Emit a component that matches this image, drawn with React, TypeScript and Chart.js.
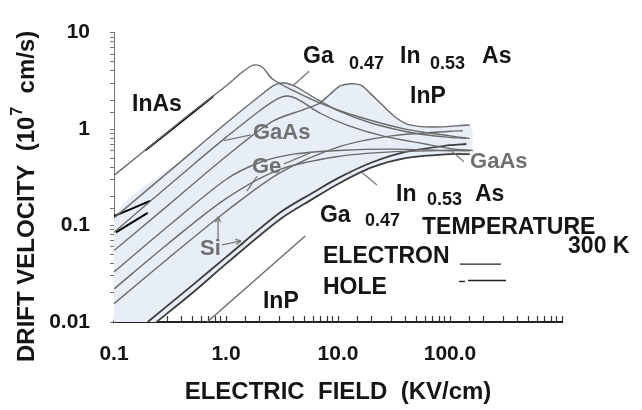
import React, { useEffect, useRef } from 'react';
import { Chart, registerables } from 'chart.js';

Chart.register(...registerables);

// ---------- axis ranges & tick labels ----------
const FIELD_MIN = 0.1;
const FIELD_MAX = 1000;
const VEL_MIN = 0.01;
const VEL_MAX = 10;
const X_TICK_LABELS = ['0.1', '1.0', '10.0', '100.0']; // decades 0.1 .. 100
const Y_TICK_LABELS = ['0.01', '0.1', '1', '10']; // decades 0.01 .. 10

// ---------- electron curves (field kV/cm, velocity 1e7 cm/s) ----------
const INAS_E_FIELD = [0.1, 0.5, 1.0, 1.4, 1.75, 2.1, 2.6, 4, 7, 15, 40, 100, 150];
const INAS_E_VEL = [0.33, 1.5, 2.8, 3.9, 4.6, 4.4, 3.3, 2.5, 1.85, 1.35, 1.0, 0.85, 0.8];

const GAINAS_E_FIELD = [0.1, 0.5, 1, 2, 2.7, 3.3, 4.2, 6, 10, 20, 50, 100, 140];
const GAINAS_E_VEL = [0.12, 0.58, 1.15, 2.2, 2.85, 3.0, 2.75, 2.15, 1.55, 1.15, 0.9, 0.82, 0.8];

const GAAS_E_FIELD = [0.1, 0.5, 1, 2, 3, 3.6, 4.5, 7, 12, 25, 60, 110, 160];
const GAAS_E_VEL = [0.085, 0.42, 0.82, 1.55, 2.1, 2.2, 2.0, 1.45, 1.1, 0.85, 0.7, 0.62, 0.6];

const INP_E_FIELD = [0.1, 0.3, 1, 2.6, 5, 6.8, 8.5, 10.5, 13, 16, 19, 24, 32, 42, 70, 150];
const INP_E_VEL = [0.055, 0.16, 0.52, 1.2, 1.6, 1.85, 2.3, 2.8, 2.95, 2.85, 2.4, 1.85, 1.35, 1.12, 1.05, 1.1];

const GE_E_FIELD = [0.1, 0.3, 1, 2, 4, 10, 30, 100, 150];
const GE_E_VEL = [0.033, 0.097, 0.3, 0.45, 0.55, 0.6, 0.62, 0.6, 0.6];

const SI_E_FIELD = [0.1, 0.3, 1, 3, 10, 30, 100, 130];
const SI_E_VEL = [0.0155, 0.045, 0.14, 0.35, 0.65, 0.85, 0.95, 0.96];

// ---------- hole curves ----------
const GE_H_FIELD = [0.1, 0.3, 1, 3, 10, 30, 100, 150];
const GE_H_VEL = [0.022, 0.064, 0.19, 0.38, 0.52, 0.58, 0.6, 0.6];

const SI_H_FIELD = [0.2, 0.5, 1, 3, 6, 10, 20, 40, 100, 140];
const SI_H_VEL = [0.01, 0.024, 0.047, 0.135, 0.22, 0.31, 0.45, 0.58, 0.68, 0.7];

const GAAS_H_FIELD = [0.24, 0.5, 1, 3, 6, 10, 20, 40, 100, 150];
const GAAS_H_VEL = [0.01, 0.02, 0.04, 0.115, 0.19, 0.27, 0.4, 0.5, 0.55, 0.55];

const INP_H_FIELD = [0.68, 5.1];
const INP_H_VEL = [0.01, 0.078];

// ---------- black pen strokes on the scan ----------
const MARK_INAS_FIELD = [0.19, 0.77];
const MARK_INAS_VEL = [0.6, 2.19];
const MARK_A_FIELD = [0.1, 0.21];
const MARK_A_VEL = [0.125, 0.18];
const MARK_B_FIELD = [0.104, 0.2];
const MARK_B_VEL = [0.085, 0.135];

// ---------- styles ----------
const FONT = '"Liberation Sans", Arial, Helvetica, sans-serif';
const INK = '#151515';
const GREY_TEXT = '#707070';
const LINE = '#6a6a6a';
const DARK_LINE = '#3c3c3c';
const BAND = '#e8eef8';

// annotations: log10(field), log10(velocity)
const ANNOTATIONS = [
  { t: 'InAs', lx: -0.839, ly: 0.19, size: 23, color: INK },
  { t: 'Ga', lx: 0.6875, ly: 0.69, size: 23, color: INK },
  { t: '0.47', lx: 1.098, ly: 0.62, size: 18, color: INK },
  { t: 'In', lx: 1.554, ly: 0.69, size: 23, color: INK },
  { t: '0.53', lx: 1.821, ly: 0.62, size: 18, color: INK },
  { t: 'As', lx: 2.286, ly: 0.69, size: 23, color: INK },
  { t: 'InP', lx: 1.643, ly: 0.27, size: 23, color: INK },
  { t: 'GaAs', lx: 0.241, ly: -0.1, size: 22, color: GREY_TEXT },
  { t: 'Ge', lx: 0.232, ly: -0.46, size: 22, color: GREY_TEXT },
  { t: 'GaAs', lx: 2.179, ly: -0.4, size: 22, color: GREY_TEXT },
  { t: 'In', lx: 1.518, ly: -0.75, size: 23, color: INK },
  { t: '0.53', lx: 1.795, ly: -0.79, size: 18, color: INK },
  { t: 'As', lx: 2.223, ly: -0.75, size: 23, color: INK },
  { t: 'Ga', lx: 0.839, ly: -0.96, size: 23, color: INK },
  { t: '0.47', lx: 1.241, ly: -1.01, size: 18, color: INK },
  { t: 'TEMPERATURE', lx: 1.75, ly: -1.09, size: 23, color: INK },
  { t: 'ELECTRON', lx: 0.866, ly: -1.39, size: 23, color: INK },
  { t: '300 K', lx: 3.054, ly: -1.28, size: 23, color: INK },
  { t: 'HOLE', lx: 0.866, ly: -1.71, size: 23, color: INK },
  { t: 'Si', lx: -0.232, ly: -1.31, size: 22, color: GREY_TEXT },
  { t: 'InP', lx: 0.33, ly: -1.85, size: 23, color: INK },
];

const POINTERS = [
  [0.741, 0.6, 0.598, 0.45],
  [0.223, -0.06, -0.018, -0.12],
  [0.518, -0.36, 0.768, -0.24],
  [0.277, -0.49, 0.1875, -0.64],
  [2.125, -0.34, 2.018, -0.23],
  [1.348, -0.58, 1.214, -0.45],
];
const ARROWS = [
  [-0.071, -1.14, -0.071, -0.91],
  [-0.036, -1.2, 0.134, -1.16],
];
const KEY_LINES = [
  [2.089, 2.455, -1.4],
  [2.08, 2.134, -1.58],
  [2.161, 2.5, -1.57],
];

function pts(xs: number[], ys: number[]) {
  return xs.map((x, i) => ({ x, y: ys[i] }));
}

function curve(label: string, xs: number[], ys: number[], color = LINE, width = 1.4) {
  return {
    label,
    data: pts(xs, ys),
    borderColor: color,
    borderWidth: width,
    pointRadius: 0,
    tension: 0.3,
    fill: false,
    order: 0,
  };
}

function band(label: string, ux: number[], uy: number[], lx: number[], ly: number[]) {
  const upper = pts(ux, uy);
  const lower = pts(lx, ly).reverse();
  return {
    label,
    data: [{ x: FIELD_MIN, y: VEL_MIN }, ...upper, ...lower],
    borderWidth: 0,
    borderColor: 'rgba(0,0,0,0)',
    backgroundColor: BAND,
    pointRadius: 0,
    tension: 0.3,
    fill: 'shape',
    order: 10,
  };
}

const decade = (v: number) => Math.round(Math.log10(v));
const isDecade = (v: number) => Math.abs(Math.log10(v) - decade(v)) < 1e-6;

const annotationPlugin = {
  id: 'sketchAnnotations',
  afterDatasetsDraw(chart: any) {
    const { ctx, scales, chartArea } = chart;
    const xs = scales.x;
    const ys = scales.y;
    const px = (l: number) => xs.getPixelForValue(Math.pow(10, l));
    const py = (l: number) => ys.getPixelForValue(Math.pow(10, l));
    ctx.save();
    ctx.textBaseline = 'alphabetic';
    ctx.textAlign = 'left';
    for (const a of ANNOTATIONS) {
      ctx.font = `bold ${a.size}px ${FONT}`;
      ctx.fillStyle = a.color;
      ctx.fillText(a.t, px(a.lx), py(a.ly));
    }
    ctx.strokeStyle = '#777';
    ctx.lineWidth = 1.3;
    for (const p of POINTERS) {
      ctx.beginPath();
      ctx.moveTo(px(p[0]), py(p[1]));
      ctx.lineTo(px(p[2]), py(p[3]));
      ctx.stroke();
    }
    for (const p of ARROWS) {
      const x1 = px(p[0]), y1 = py(p[1]), x2 = px(p[2]), y2 = py(p[3]);
      ctx.beginPath();
      ctx.moveTo(x1, y1);
      ctx.lineTo(x2, y2);
      ctx.stroke();
      const ang = Math.atan2(y2 - y1, x2 - x1);
      ctx.beginPath();
      ctx.moveTo(x2, y2);
      ctx.lineTo(x2 - 6 * Math.cos(ang - 0.45), y2 - 6 * Math.sin(ang - 0.45));
      ctx.moveTo(x2, y2);
      ctx.lineTo(x2 - 6 * Math.cos(ang + 0.45), y2 - 6 * Math.sin(ang + 0.45));
      ctx.stroke();
    }
    ctx.strokeStyle = '#222';
    ctx.lineWidth = 1.4;
    for (const k of KEY_LINES) {
      ctx.beginPath();
      ctx.moveTo(px(k[0]), py(k[2]));
      ctx.lineTo(px(k[1]), py(k[2]));
      ctx.stroke();
    }
    // y-axis title with superscript
    ctx.translate(chartArea.left - 87, chartArea.bottom + 40);
    ctx.rotate(-Math.PI / 2);
    ctx.fillStyle = INK;
    ctx.textBaseline = 'middle';
    ctx.font = `bold 24px ${FONT}`;
    const part1 = 'DRIFT VELOCITY  (10';
    ctx.fillText(part1, 0, 0);
    let w = ctx.measureText(part1).width;
    ctx.font = `bold 16px ${FONT}`;
    ctx.fillText('7', w + 1, -9);
    w += ctx.measureText('7').width + 1;
    ctx.font = `bold 24px ${FONT}`;
    ctx.fillText('  cm/s)', w, 0);
    ctx.restore();
  },
};

export default function App() {
  const ref = useRef<HTMLCanvasElement>(null);
  useEffect(() => {
    if (!ref.current) return;
    const chart = new Chart(ref.current, {
      type: 'scatter',
      data: {
        datasets: [
          curve('InAs electron', INAS_E_FIELD, INAS_E_VEL),
          curve('GaInAs electron', GAINAS_E_FIELD, GAINAS_E_VEL),
          curve('GaAs electron', GAAS_E_FIELD, GAAS_E_VEL),
          curve('InP electron', INP_E_FIELD, INP_E_VEL),
          curve('Ge electron', GE_E_FIELD, GE_E_VEL),
          curve('Si electron', SI_E_FIELD, SI_E_VEL),
          curve('Ge hole', GE_H_FIELD, GE_H_VEL),
          curve('Si hole', SI_H_FIELD, SI_H_VEL, DARK_LINE, 1.8),
          curve('GaAs hole', GAAS_H_FIELD, GAAS_H_VEL, DARK_LINE, 1.8),
          curve('InP hole', INP_H_FIELD, INP_H_VEL),
          curve('mark InAs', MARK_INAS_FIELD, MARK_INAS_VEL, '#000', 2),
          curve('mark A', MARK_A_FIELD, MARK_A_VEL, '#000', 2),
          curve('mark B', MARK_B_FIELD, MARK_B_VEL, '#000', 2),
          band('band 1', GAINAS_E_FIELD, GAINAS_E_VEL, GAAS_H_FIELD, GAAS_H_VEL),
          band('band 2', INP_E_FIELD, INP_E_VEL, GAAS_H_FIELD, GAAS_H_VEL),
        ] as any,
      },
      options: {
        animation: false,
        responsive: false,
        devicePixelRatio: 1,
        showLine: true,
        layout: { padding: { top: 22, right: 80, left: 0, bottom: 0 } },
        plugins: { legend: { display: false }, tooltip: { enabled: false } },
        elements: { point: { radius: 0 } },
        scales: {
          x: {
            type: 'logarithmic',
            position: 'bottom',
            min: FIELD_MIN,
            max: FIELD_MAX,
            afterFit: (s: any) => {
              s.height = 88;
            },
            border: { display: true, color: '#222', width: 2 },
            grid: {
              drawOnChartArea: false,
              drawTicks: true,
              tickLength: -6,
              tickColor: '#333',
              tickWidth: 1.2,
            },
            ticks: {
              autoSkip: false,
              maxRotation: 0,
              padding: 26,
              color: INK,
              font: { family: FONT, size: 21, weight: 'bold' },
              callback: (v: any) => (isDecade(v) ? X_TICK_LABELS[decade(v) + 1] ?? '' : ''),
            },
            title: {
              display: true,
              text: 'ELECTRIC  FIELD  (KV/cm)',
              color: INK,
              font: { family: FONT, size: 24, weight: 'bold' },
              padding: { top: 0, bottom: 3 },
            },
          },
          y: {
            type: 'logarithmic',
            position: 'left',
            min: VEL_MIN,
            max: VEL_MAX,
            afterFit: (s: any) => {
              s.width = 114;
            },
            border: { display: true, color: '#777', width: 1 },
            grid: {
              drawOnChartArea: false,
              drawTicks: true,
              tickLength: 4,
              tickColor: '#777',
            },
            ticks: {
              autoSkip: false,
              padding: 20,
              color: INK,
              font: { family: FONT, size: 21, weight: 'bold' },
              callback: (v: any) => (isDecade(v) ? Y_TICK_LABELS[decade(v) + 2] ?? '' : ''),
            },
          },
        },
      } as any,
      plugins: [annotationPlugin],
    });
    return () => chart.destroy();
  }, []);
  return (
    <div style={{ position: 'absolute', left: 0, top: 0, width: 642, height: 410, background: '#fff' }}>
      <canvas ref={ref} width={642} height={410} style={{ width: 642, height: 410, display: 'block' }} />
    </div>
  );
}
